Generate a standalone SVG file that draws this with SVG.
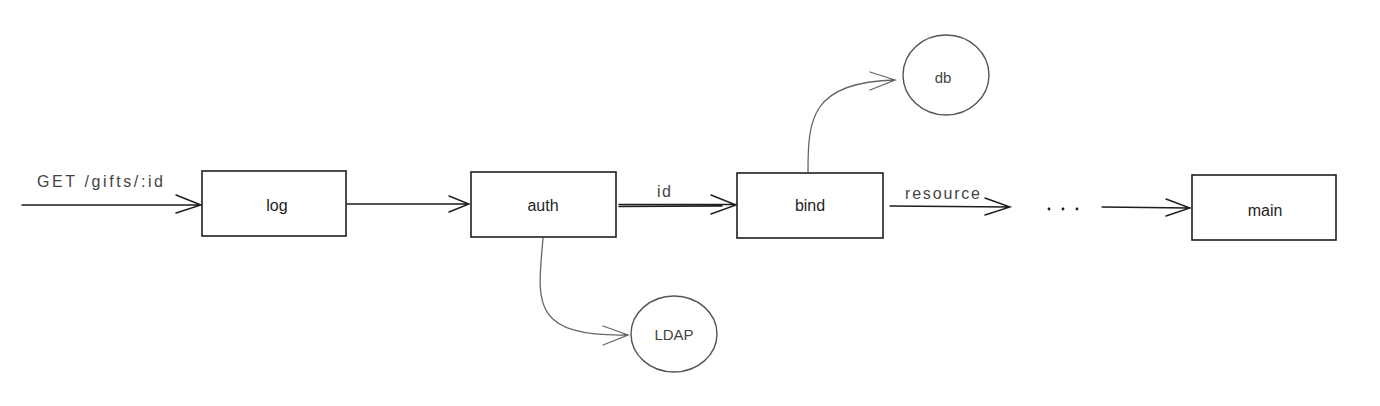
<svg xmlns="http://www.w3.org/2000/svg" width="1380" height="406" viewBox="0 0 1380 406">
<style>
.box{fill:#ffffff;stroke:#1e1e1e;stroke-width:1.6}
.circ{fill:#ffffff;stroke:#555555;stroke-width:1.4}
.edge{fill:none;stroke:#1e1e1e;stroke-width:1.4;stroke-linecap:round}
.soft{fill:none;stroke:#666666;stroke-width:1.3;stroke-linecap:round}
.lbl{font-family:"Liberation Sans",Arial,sans-serif;font-size:16px;fill:#1e1e1e;text-anchor:middle;dominant-baseline:central}
.elbl{font-family:"Liberation Sans",Arial,sans-serif;font-size:16px;fill:#444444}
.clbl{font-family:"Liberation Sans",Arial,sans-serif;font-size:15px;fill:#444444;text-anchor:middle;dominant-baseline:central}
</style>
<rect width="1380" height="406" fill="#ffffff"/>
<g id="connectors">
<path class="edge" d="M22,205 L201,205 M176,195 L201,205 L176,213"/>
<text class="elbl" x="37" y="187" textLength="126" lengthAdjust="spacing">GET /gifts/:id</text>
<path class="edge" d="M347,204 L469,204 M449,196 L469,204 L449,212"/>
<path class="edge" d="M619,204.5 L736,204.5 M619,206.5 L722,206 M711,195 L736,205 L711,214"/>
<text class="elbl" x="657" y="197" textLength="14" lengthAdjust="spacing">id</text>
<path class="soft" d="M808,172 C808,120 810,82 895,80 M870,72 L895,80 L870,90"/>
<path class="soft" d="M543,238 C538,300 528,337 628,335 M603,326 L628,335 L603,345"/>
<path class="edge" d="M890,206 L1010,207 M985,198 L1010,207 L985,215"/>
<text class="elbl" x="905" y="199" textLength="75" lengthAdjust="spacing">resource</text>
<g fill="#1e1e1e"><circle cx="1049" cy="209" r="1.4"/><circle cx="1063" cy="209" r="1.4"/><circle cx="1077" cy="209" r="1.4"/></g>
<path class="edge" d="M1102,207 L1190,208 M1166,199 L1190,208 L1166,216"/>
</g>
<g id="log"><rect class="box" x="202" y="171" width="144" height="65"/><text class="lbl" x="277" y="205">log</text></g>
<g id="auth"><rect class="box" x="471" y="172" width="145" height="65"/><text class="lbl" x="543" y="205">auth</text></g>
<g id="bind"><rect class="box" x="737" y="173" width="146" height="65"/><text class="lbl" x="810" y="205">bind</text></g>
<g id="main"><rect class="box" x="1192" y="175" width="144" height="65"/><text class="lbl" x="1265" y="210">main</text></g>
<g id="db"><ellipse class="circ" cx="946" cy="75" rx="43" ry="40"/><text class="clbl" x="943" y="77">db</text></g>
<g id="LDAP"><ellipse class="circ" cx="674" cy="334" rx="43" ry="38"/><text class="clbl" x="674" y="334">LDAP</text></g>
</svg>
